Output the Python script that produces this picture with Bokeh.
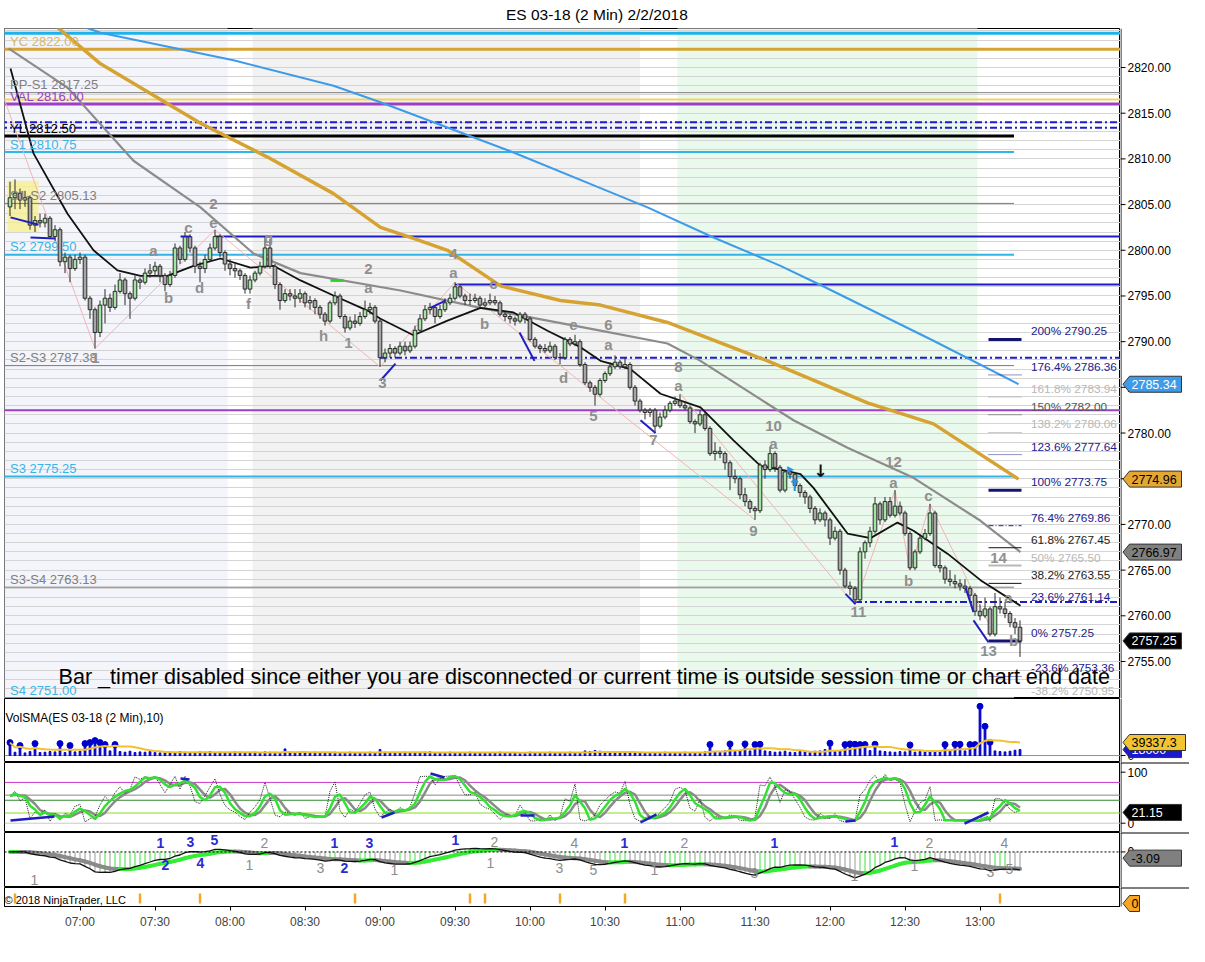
import numpy as np
from bokeh.plotting import figure
from bokeh.layouts import column, row
from bokeh.models import Range1d, FixedTicker, SingleIntervalTicker, Span
from bokeh.core.properties import value
from bokeh.embed import file_html
from bokeh.resources import INLINE

FONT = "Liberation Sans"
W = 1189
MAIN_W = 1120
SIDE_W = W - MAIN_W
LB = 4

# ------------------------------------------------------------------ data
TITLE = "ES 03-18 (2 Min)  2/2/2018"
FIRST_BAR_TIME = "06:32"
BAR_MINUTES = 2
OPEN_FIRST = 2804.75

CLOSE = [
    2805.75, 2806.25, 2805.5, 2805.75, 2802.75, 2803.25, 2803.0, 2803.5, 2801.5, 2802.25,
    2798.75, 2799.25, 2798.0, 2799.0, 2799.25, 2794.75, 2793.5, 2791.0, 2794.0, 2794.75,
    2793.75, 2795.5, 2796.75, 2795.25, 2794.75, 2796.75, 2796.5, 2797.5, 2797.75, 2798.25,
    2797.25, 2796.25, 2797.25, 2800.25, 2799.0, 2801.5, 2800.25, 2798.25, 2798.0, 2799.0,
    2800.25, 2801.5, 2799.75, 2798.5, 2798.0, 2797.75, 2797.25, 2795.75, 2796.75, 2797.5,
    2798.25, 2800.25, 2798.25, 2796.25, 2794.5, 2795.25, 2795.0, 2794.75, 2795.25, 2794.25,
    2794.5, 2793.75, 2793.0, 2792.25, 2794.25, 2795.0, 2792.75, 2791.5, 2792.25, 2792.0,
    2792.75, 2793.5, 2793.75, 2792.25, 2788.25, 2788.75, 2789.25, 2788.75, 2789.5, 2789.0,
    2789.5, 2791.25, 2792.5, 2793.5, 2793.75, 2792.75, 2793.5, 2794.25, 2794.75, 2796.0,
    2795.0, 2794.5, 2794.5, 2794.75, 2794.0, 2794.25, 2794.5, 2794.25, 2793.0, 2792.75,
    2792.5, 2792.25, 2793.0, 2792.5, 2790.25, 2789.5, 2789.25, 2789.0, 2789.5, 2788.25,
    2788.25, 2790.25, 2789.75, 2790.0, 2787.5, 2785.5, 2785.0, 2784.25, 2785.75, 2786.5,
    2787.25, 2787.75, 2787.25, 2787.5, 2785.0, 2783.5, 2782.5, 2782.25, 2782.5, 2780.75,
    2781.75, 2782.5, 2783.25, 2783.5, 2783.0, 2782.75, 2781.25, 2781.0, 2782.0, 2780.5,
    2777.75, 2778.0, 2777.75, 2776.75, 2775.25, 2775.0, 2773.25, 2772.5, 2771.75, 2771.5,
    2776.5, 2776.0, 2777.75, 2776.25, 2773.75, 2775.75, 2775.5, 2774.25, 2773.5, 2773.0,
    2771.75, 2770.5, 2771.25, 2770.5, 2768.5, 2769.25, 2765.0, 2763.25, 2763.0, 2761.75,
    2767.0, 2768.0, 2769.25, 2772.25, 2770.5, 2772.5, 2771.0, 2772.0, 2771.25, 2769.0,
    2765.25, 2767.0, 2768.5, 2769.0, 2771.25, 2765.5, 2765.25, 2764.0, 2763.75, 2763.5,
    2763.25, 2763.0, 2762.25, 2760.5, 2760.0, 2760.75, 2758.0, 2761.0, 2760.75, 2760.25,
    2759.25, 2758.75, 2757.25]

HIGH = [
    2807.5, 2807.75, 2806.75, 2806.5, 2806.0, 2803.75, 2804.0, 2804.0, 2803.75, 2802.75,
    2802.5, 2799.75, 2799.5, 2799.5, 2799.75, 2799.5, 2795.0, 2793.75, 2794.5, 2795.75,
    2795.25, 2796.25, 2797.5, 2797.0, 2795.5, 2797.25, 2797.0, 2798.0, 2798.5, 2798.75,
    2798.5, 2797.5, 2797.75, 2800.75, 2800.5, 2802.0, 2801.75, 2800.5, 2798.75, 2799.5,
    2800.75, 2802.25, 2801.75, 2800.0, 2799.0, 2798.5, 2798.0, 2797.5, 2797.25, 2797.75,
    2798.75, 2801.5, 2801.25, 2798.5, 2796.5, 2795.75, 2795.75, 2795.75, 2795.75, 2795.5,
    2795.0, 2794.75, 2794.0, 2793.25, 2794.5, 2795.5, 2795.25, 2793.0, 2792.75, 2793.0,
    2793.25, 2794.5, 2794.25, 2794.0, 2792.5, 2789.25, 2789.75, 2789.5, 2790.0, 2790.0,
    2790.0, 2791.75, 2793.0, 2794.0, 2794.25, 2794.0, 2794.0, 2794.75, 2795.25, 2796.5,
    2796.25, 2795.25, 2795.25, 2795.25, 2795.0, 2794.75, 2795.25, 2795.0, 2794.5, 2793.25,
    2793.0, 2792.75, 2793.25, 2793.25, 2792.75, 2790.5, 2789.75, 2789.75, 2790.0, 2789.75,
    2788.75, 2790.5, 2790.5, 2790.75, 2790.25, 2787.75, 2785.75, 2785.25, 2786.0, 2786.75,
    2787.75, 2788.5, 2788.0, 2788.25, 2787.75, 2785.25, 2783.75, 2782.75, 2782.75, 2782.75,
    2782.25, 2783.0, 2783.5, 2784.0, 2784.25, 2783.5, 2783.0, 2781.5, 2782.5, 2782.25,
    2780.75, 2779.0, 2778.5, 2778.0, 2777.0, 2776.0, 2775.25, 2774.0, 2772.75, 2772.0,
    2776.75, 2777.0, 2778.5, 2778.0, 2776.5, 2776.0, 2776.0, 2775.75, 2774.5, 2773.75,
    2773.25, 2772.0, 2771.75, 2771.5, 2770.75, 2769.75, 2769.5, 2765.25, 2763.75, 2763.25,
    2767.5, 2768.25, 2769.75, 2773.0, 2772.5, 2773.0, 2773.0, 2773.75, 2772.5, 2771.5,
    2769.25, 2767.25, 2768.75, 2769.5, 2772.25, 2771.5, 2767.0, 2765.5, 2765.0, 2764.5,
    2764.0, 2764.0, 2763.25, 2762.5, 2761.25, 2762.0, 2761.0, 2762.5, 2762.0, 2761.5,
    2760.5, 2759.75, 2759.5]

LOW = [
    2803.75, 2804.5, 2804.5, 2804.75, 2802.25, 2802.0, 2802.5, 2802.5, 2801.25, 2801.0,
    2798.25, 2797.5, 2796.5, 2797.75, 2798.5, 2794.5, 2792.5, 2789.25, 2790.5, 2792.0,
    2793.25, 2793.5, 2795.25, 2794.0, 2792.5, 2794.5, 2795.75, 2796.25, 2797.0, 2797.25,
    2796.5, 2795.5, 2796.0, 2797.0, 2798.5, 2798.75, 2799.75, 2797.5, 2796.5, 2797.5,
    2798.75, 2800.0, 2799.25, 2797.75, 2797.25, 2797.0, 2796.75, 2795.25, 2795.25, 2796.5,
    2797.25, 2798.0, 2798.0, 2795.75, 2793.5, 2794.25, 2794.5, 2793.75, 2794.25, 2793.75,
    2793.5, 2793.0, 2792.5, 2791.75, 2792.0, 2794.0, 2792.5, 2791.0, 2791.25, 2791.5,
    2791.75, 2792.5, 2793.0, 2792.0, 2787.25, 2787.75, 2788.25, 2788.25, 2788.5, 2788.5,
    2788.75, 2789.25, 2791.0, 2792.25, 2793.0, 2792.0, 2792.5, 2793.25, 2794.0, 2794.5,
    2794.75, 2794.0, 2794.0, 2794.25, 2793.75, 2793.75, 2794.0, 2794.0, 2792.75, 2792.25,
    2792.0, 2791.75, 2792.0, 2792.0, 2790.0, 2789.25, 2788.75, 2788.75, 2788.75, 2788.0,
    2787.5, 2788.0, 2789.5, 2789.5, 2787.25, 2785.25, 2784.5, 2783.0, 2784.0, 2785.5,
    2786.25, 2787.0, 2787.0, 2787.0, 2784.75, 2783.0, 2782.25, 2781.5, 2781.75, 2780.0,
    2780.5, 2781.5, 2782.25, 2783.0, 2782.75, 2782.5, 2781.0, 2780.0, 2780.75, 2780.25,
    2777.5, 2777.0, 2777.25, 2776.0, 2773.75, 2774.5, 2772.75, 2772.0, 2771.25, 2770.5,
    2771.25, 2775.0, 2775.75, 2775.75, 2773.5, 2773.5, 2775.0, 2774.0, 2773.0, 2772.25,
    2771.25, 2770.0, 2770.25, 2769.75, 2767.75, 2768.25, 2764.5, 2763.0, 2762.25, 2761.25,
    2761.5, 2766.25, 2767.5, 2769.0, 2770.0, 2770.25, 2770.75, 2770.75, 2771.0, 2768.75,
    2765.0, 2765.0, 2766.75, 2768.25, 2768.75, 2765.25, 2764.75, 2763.5, 2763.25, 2763.0,
    2762.75, 2762.5, 2761.75, 2760.0, 2759.5, 2759.75, 2757.75, 2757.75, 2760.25, 2759.75,
    2758.75, 2758.0, 2755.5]

VOLUME_K = [
    39, 10, 30, 8, 12, 36, 9, 10, 12, 11,
    36, 9, 30, 11, 13, 36, 39, 45, 39, 33,
    14, 33, 12, 10, 13, 9, 11, 10, 12, 9,
    8, 10, 11, 9, 12, 10, 9, 8, 11, 10,
    12, 9, 10, 8, 9, 11, 10, 9, 8, 10,
    9, 11, 10, 9, 8, 20, 9, 8, 10, 9,
    8, 10, 9, 8, 9, 10, 8, 9, 10, 9,
    8, 9, 10, 9, 18, 10, 9, 8, 9, 10,
    9, 8, 9, 10, 11, 9, 8, 9, 10, 9,
    8, 9, 10, 9, 8, 9, 8, 9, 10, 9,
    8, 9, 8, 9, 10, 9, 8, 9, 10, 9,
    8, 9, 10, 9, 8, 14, 12, 15, 13, 9,
    8, 10, 9, 8, 9, 10, 9, 8, 9, 8,
    9, 10, 9, 8, 9, 10, 9, 8, 9, 11,
    33, 12, 10, 14, 35, 12, 15, 35, 14, 33,
    34, 14, 12, 10, 11, 13, 10, 9, 12, 11,
    10, 13, 14, 18, 37, 12, 15, 33, 35, 34,
    33, 33, 15, 34, 14, 12, 11, 10, 12, 11,
    32, 10, 12, 11, 13, 12, 14, 33, 13, 34,
    34, 14, 33, 33, 148.373, 88, 40, 14, 12, 11,
    13, 16, 18]

# moving averages read at sample bars (bar index, price)
BLUE_MA_BAR = [14, 18.1, 44.7, 64.7, 74.1, 100.7, 118.1, 127.5, 140.7, 154.1, 162.1, 184.7, 201.7]
BLUE_MA = [2824.6, 2823.8, 2820.8, 2818.0, 2816.2, 2810.7, 2806.8, 2804.7, 2801.4, 2798.3, 2796.2, 2790.1, 2785.34]
GOLD_MA_BAR = [9.5, 18.1, 38.1, 51.5, 64.7, 74.1, 80.7, 87.5, 98.1, 110.1, 118.1, 131.5, 151.5, 171.5, 184.7, 201.7]
GOLD_MA = [2824.4, 2820.4, 2813.9, 2810.2, 2806.2, 2802.5, 2801.3, 2800.0, 2796.1, 2794.5, 2794.0, 2792.1, 2787.9, 2783.3, 2781.0, 2774.96]
GRAY_MA_BAR = [-0.3, 11.5, 24.7, 38.1, 48.7, 58.1, 78.1, 94.1, 107.5, 118.1, 131.5, 138.1, 151.5, 156.7, 167.5, 180.7, 194.1, 202.1]
GRAY_MA = [2822.1, 2817.8, 2809.8, 2804.7, 2799.65, 2797.5, 2795.6, 2793.7, 2792.3, 2791.2, 2789.8, 2787.9, 2783.2, 2781.4, 2778.4, 2775.1, 2770.4, 2766.97]
BLACK_MA_BAR = [0.1, 4.7, 11.5, 16.7, 21.5, 26.1, 31.5, 36.7, 42.1, 48.1, 52.7, 58.1, 64.7, 71.5, 74.1, 80.7,
                87.5, 94.1, 100.7, 107.5, 114.1, 118.1, 124.1, 130.1, 138.1, 144.7, 150.1, 154.1, 158.1,
                160.7, 167.5, 172.1, 177.5, 180.7, 187.5, 194.1, 202.1]
BLACK_MA = [2819.9, 2810.6, 2804.0, 2800.0, 2797.8, 2797.2, 2797.2, 2798.3, 2799.1, 2798.1, 2798.3, 2796.7,
            2795.05, 2793.4, 2792.5, 2790.7, 2792.3, 2793.7, 2793.2, 2791.2, 2789.4, 2787.9, 2787.0, 2784.3,
            2782.8, 2779.2, 2776.4, 2776.0, 2775.5, 2774.0, 2769.0, 2768.5, 2770.2, 2769.3, 2766.8, 2763.9, 2761.1]

# horizontal levels
LEVEL_PRICE = [2823.75, 2822.00, 2817.25, 2816.50, 2816.00, 2814.00, 2813.40, 2812.50, 2810.75, 2805.13,
               2801.50, 2799.50, 2796.25, 2788.25, 2787.38, 2782.50, 2775.25, 2763.13, 2761.50, 2751.00]
LEVEL_NAME = ["", "YC", "PP-S1", "", "VAL", "", "", "YL", "S1", "S1-S2",
              "", "S2", "", "", "S2-S3", "", "S3", "S3-S4", "", "S4"]
LEVEL_FROM = [-2, -2, -2, -2, -2, -2, -2, -2, -2, -2, 41, -2, 89, 74, -2, -2, -2, -2, 169, -2]
LEVEL_TO = [223, 223, 223, 223, 223, 223, 223, 200.8, 200.8, 200.8,
            223, 200.8, 223, 223, 200.8, 223, 200.8, 200.8, 223, 200.8]
LEVEL_COLOR = ["#1bb3ea", "#d4a436", "#808080", "#f3d35a", "#9b3fc4", "#1c1cc8", "#1c1cc8", "#000000", "#2fb5e8", "#7a7a7a",
               "#1c1cc8", "#2fb5e8", "#1c1cc8", "#1c1cc8", "#7a7a7a", "#9b3fc4", "#2fb5e8", "#7a7a7a", "#1c1cc8", "#2fb5e8"]
LEVEL_WIDTH = [3, 3, 1, 2, 3, 2, 2, 3, 2, 1, 2, 2, 2, 2, 1, 2, 2, 1, 2, 2]
LEVEL_DASH = ["solid", "solid", "solid", "solid", "solid", "7 3 2 3", "7 3 2 3", "solid", "solid", "solid",
              "solid", "solid", "solid", "7 3 2 3", "solid", "solid", "solid", "solid", "7 3 2 3", "solid"]
LEVEL_TEXT_COLOR = {"YC": "#d9b75c", "PP-S1": "#7f7f7f", "VAL": "#9b3fc4", "YL": "#000000", "S1": "#3ab4e6",
                    "S1-S2": "#7f7f7f", "S2": "#3ab4e6", "S2-S3": "#7f7f7f", "S3": "#3ab4e6",
                    "S3-S4": "#7f7f7f", "S4": "#3ab4e6"}

# session shading
SHADE_FROM = ["06:30", "08:10", "11:00"]
SHADE_TO = ["08:00", "10:45", "13:00"]
SHADE_COLOR = ["#f4f4fb", "#f2f2f2", "#e9f9eb"]

# fibonacci projection
FIB_PCT = ["200%", "176.4%", "161.8%", "150%", "138.2%", "123.6%", "100%", "76.4%", "61.8%", "50%",
           "38.2%", "23.6%", "0%", "-23.6%", "-38.2%"]
FIB_PRICE = [2790.25, 2786.36, 2783.94, 2782.00, 2780.06, 2777.64, 2773.75, 2769.86, 2767.45, 2765.50,
             2763.55, 2761.14, 2757.25, 2753.36, 2750.95]
FIB_TEXT_COLOR = ["#22228a", "#22228a", "#b8b8b8", "#555555", "#b8b8b8", "#22228a", "#22228a", "#22228a", "#222222",
                  "#b8b8b8", "#222222", "#22228a", "#22228a", "#22228a", "#b8b8b8"]
FIB_MARK_COLOR = ["#14146e", "#22228a", "#999999", "#444444", "#999999", "#22228a", "#14146e", "#22228a", "#111111",
                  "#b8b8b8", "#111111", None, "#14146e", "#22228a", None]
FIB_MARK_WIDTH = [3, 1, 1, 1, 1, 1, 3, 1, 1, 2, 1, 1, 3, 1, 1]
FIB_MARK_DASH = ["solid", "1 1", "1 1", "1 1", "1 1", "1 1", "solid", "5 2 1 2", "solid", "solid",
                 "solid", "solid", "solid", "1 1", "solid"]

# wave labels
WAVE_TEXT = ["1", "a", "b", "c", "2", "e", "d", "f", "g", "h", "1", "2", "a", "3", "4", "a", "c", "b", "e", "6",
             "a", "d", "5", "7", "8", "a", "10", "a", "9", "11", "12", "a", "b", "c", "14", "13", "a", "b"]
WAVE_BAR = [17.1, 28.7, 31.7, 35.7, 40.7, 40.7, 37.9, 47.7, 51.7, 62.7, 67.7, 71.7, 71.7, 74.5, 88.7, 88.7, 96.7,
            94.9, 112.7, 119.7, 119.7, 110.7, 116.7, 128.7, 133.7, 133.7, 152.7, 152.7, 148.7, 169.7, 176.7,
            176.7, 179.7, 183.7, 197.7, 195.7, 199.7, 200.7]
WAVE_PRICE = [2788.2, 2800.0, 2794.8, 2802.5, 2805.1, 2803.0, 2795.9, 2794.2, 2801.4, 2790.7, 2789.8, 2798.0,
              2795.9, 2785.5, 2799.6, 2797.6, 2796.4, 2792.0, 2791.8, 2791.8, 2789.7, 2786.1, 2781.9, 2779.2,
              2787.2, 2785.2, 2780.8, 2778.9, 2769.3, 2760.4, 2776.8, 2774.6, 2763.9, 2773.2, 2766.3, 2756.2,
              2762.0, 2757.3]

DIV_MAIN = [(0.1, 2803.6, 5.7, 2802.8), (4.1, 2801.4, 9.1, 2801.3), (34.1, 2801.5, 36.1, 2801.5),
            (74.1, 2785.75, 77.1, 2787.6), (84.1, 2793.7, 87.1, 2794.5), (101.9, 2791.0, 104.9, 2787.9),
            (126.1, 2781.4, 129.1, 2780.0), (167.1, 2762.4, 169.1, 2761.3), (191.1, 2763.1, 192.7, 2760.4),
            (192.7, 2759.5, 195.7, 2757.1)]
ZIGZAG_BAR = [-2, 17, 41, 74, 89, 149]
ZIGZAG_PRICE = [2817.8, 2789.25, 2802.25, 2787.25, 2796.5, 2770.5]
ZIGZAG2_BAR = [134.1, 167.1]
ZIGZAG2_PRICE = [2784.3, 2762.4]
ZIGZAG3_BAR = [169, 177, 180, 184, 197]
ZIGZAG3_PRICE = [2761.25, 2773.75, 2765.0, 2772.25, 2757.75]
HIGHLIGHT = (-0.5, 5.7, 2802.0, 2807.6)

MESSAGE = ("Bar _timer disabled since either you are disconnected or current time is outside "
           "session time or chart end date")

STOCH_LAST = 21.15
MACD_LAST = -3.09
MACD_DISPLAY_RATIO = 3.35   # reference MACD units per unit of the recomputed MACD
STOCH_LEVELS = [80, 55, 45, 20, 0]
STOCH_LEVEL_COLOR = ["#cc33cc", "#888888", "#2e8b2e", "#88dd22", "#c8c8c8"]
DIV_STOCH = [(0.1, 5.3, 8.9, 13.1), (34.1, 87.6, 35.9, 85.7), (74.3, 11.2, 76.9, 21.0), (84.1, 97.5, 86.9, 89.6),
             (102.1, 15.1, 104.9, 15.1), (126.1, 1.4, 129.3, 17.1), (167.1, 3.3, 169.1, 5.3), (190.9, -0.6, 195.7, 21.0)]

MACD_NUM_TEXT = ["1", "2", "3", "4", "5", "1", "2", "1", "3", "1", "2", "3", "1", "1", "2", "1", "4", "3", "5",
                 "1", "2", "1", "3", "1", "1", "1", "2", "1", "3", "5", "4"]
MACD_NUM_BLUE = [1, 1, 1, 1, 1, 0, 0, 0, 0, 1, 1, 1, 0, 1, 0, 0, 0, 0, 0, 1, 0, 0, 0, 1, 0, 1, 0, 0, 0, 0, 0]
MACD_NUM_BAR = [30.1, 31.1, 36.1, 38.1, 40.9, 4.9, 50.9, 47.9, 62.1, 64.9, 66.9, 71.9, 76.9, 89.1, 96.9, 96.1,
                112.9, 109.9, 116.7, 122.9, 134.9, 128.9, 148.9, 152.9, 168.9, 176.9, 183.9, 180.9, 196.1, 199.9, 198.9]
MACD_NUM_VAL = [1.34, -1.95, 1.51, -1.62, 1.79, -4.19, 1.34, -1.95, -2.4, 1.34, -2.4, 1.34, -2.68, 1.79, 1.51,
                -1.62, 1.34, -2.4, -2.68, 1.34, 1.34, -2.68, -3.12, 1.34, -3.57, 1.51, 1.34, -2.06, -2.96,
                -2.51, 1.34]

SIGNAL_BARS = [1, 26, 38, 69, 92, 95, 110, 123, 198]
TIME_LABELS = ["07:00", "07:30", "08:00", "08:30", "09:00", "09:30", "10:00", "10:30", "11:00", "11:30",
               "12:00", "12:30", "13:00"]
PRICE_TICKS = [2755, 2760, 2765, 2770, 2775, 2780, 2785, 2790, 2795, 2800, 2805, 2810, 2815, 2820]


# ------------------------------------------------------------------ helpers
def minutes(s):
    hh, mm = s.split(":")
    return int(hh) * 60 + int(mm)


def bar_of(s):
    return (minutes(s) - minutes(FIRST_BAR_TIME)) / BAR_MINUTES


def sma(a, k):
    return np.array([a[max(0, i - k + 1):i + 1].mean() for i in range(len(a))])


def ema(a, span):
    al = 2.0 / (span + 1)
    out = np.empty(len(a))
    out[0] = a[0]
    for i in range(1, len(a)):
        out[i] = out[i - 1] + al * (a[i] - out[i - 1])
    return out


c = np.array(CLOSE)
h = np.array(HIGH)
lo = np.array(LOW)
o = np.concatenate([[OPEN_FIRST], c[:-1]])
n = len(c)
idx = np.arange(n)
vol = np.array(VOLUME_K, dtype=float) * 1000.0

XR = Range1d(-1.1, 222.1)


def panel(height, y_range, xaxis=False, bottom=0):
    p = figure(width=MAIN_W, height=height, x_range=XR, y_range=y_range,
               x_axis_location="below" if xaxis else None, y_axis_location=None,
               output_backend="svg", toolbar_location=None,
               min_border_left=LB, min_border_right=0, min_border_top=0, min_border_bottom=bottom,
               background_fill_color="white", border_fill_color="white",
               outline_line_color="black")
    p.xgrid.visible = False
    p.ygrid.visible = False
    return p


def side(y_range, height, top_rule=False, ticks=(), fmt="{:.0f}", axis_span=None):
    s = figure(width=SIDE_W, height=height, x_range=Range1d(0, SIDE_W), y_range=y_range,
               x_axis_location=None, y_axis_location=None, output_backend="svg", toolbar_location=None,
               min_border=0, outline_line_color=None,
               background_fill_color="white", border_fill_color="white")
    s.xgrid.visible = False
    s.ygrid.visible = False
    y0, y1 = axis_span if axis_span else (y_range.start, y_range.end)
    s.segment(x0=[0.5], y0=[y0], x1=[0.5], y1=[y1], line_color="black", line_width=1)
    if top_rule:
        s.segment(x0=[0], y0=[y1], x1=[SIDE_W], y1=[y1], line_color="black", line_width=2)
    if ticks:
        s.segment(x0=[0] * len(ticks), y0=list(ticks), x1=[5] * len(ticks), y1=list(ticks),
                  line_color="black", line_width=1)
        s.text(x=[7] * len(ticks), y=list(ticks), text=[fmt.format(t) for t in ticks],
               text_font=value(FONT), text_font_size="12px", text_color="black",
               text_baseline="middle", text_align="left")
    return s


def tag(s, v, text, bg, fg, frame_h, box_w=52):
    yr = s.y_range
    hh = 8.0 * (yr.end - yr.start) / frame_h
    s.patch(x=[2.5, 9, 9 + box_w, 9 + box_w, 9], y=[v, v + hh, v + hh, v - hh, v - hh],
            fill_color=bg, line_color="#333333", line_width=1)
    s.text(x=[11], y=[v], text=[text], text_font=value(FONT), text_font_size="12.5px",
           text_color=fg, text_baseline="middle", text_align="left")


# ------------------------------------------------------------------ title
pt = figure(width=W, height=28, x_range=Range1d(0, W), y_range=Range1d(0, 28),
            x_axis_location=None, y_axis_location=None, output_backend="svg", toolbar_location=None,
            min_border=0, outline_line_color=None)
pt.xgrid.visible = False
pt.ygrid.visible = False
pt.text(x=[W / 2], y=[14], text=[TITLE], text_font=value(FONT), text_font_size="15.5px",
        text_align="center", text_baseline="middle", text_color="black", x_offset=4)

# ------------------------------------------------------------------ main price panel
MAIN_H = 670
pm = panel(MAIN_H, Range1d(2750.95, 2824.27))
pm.ygrid.visible = True
pm.ygrid.ticker = SingleIntervalTicker(interval=1, num_minor_ticks=0)
pm.ygrid.grid_line_color = "#d4d4d4"

for f, t, col in zip(SHADE_FROM, SHADE_TO, SHADE_COLOR):
    pm.quad(left=[bar_of(f) - 0.5], right=[bar_of(t) - 0.5], bottom=[2700], top=[2900],
            fill_color=col, line_color=None, level="image")

pm.quad(left=[HIGHLIGHT[0]], right=[HIGHLIGHT[1]], bottom=[HIGHLIGHT[2]], top=[HIGHLIGHT[3]],
        fill_color="#f7f08a", fill_alpha=0.75, line_color=None)

for pr, x0, x1, col, wd, ds in zip(LEVEL_PRICE, LEVEL_FROM, LEVEL_TO, LEVEL_COLOR, LEVEL_WIDTH, LEVEL_DASH):
    pm.line(x=[x0, x1], y=[pr, pr], line_color=col, line_width=wd, line_dash=ds)

pm.line(ZIGZAG_BAR, ZIGZAG_PRICE, line_color="#f2b4b4", line_width=1)
pm.line(ZIGZAG2_BAR, ZIGZAG2_PRICE, line_color="#f2b4b4", line_width=1)
pm.line(ZIGZAG3_BAR, ZIGZAG3_PRICE, line_color="#f2b4b4", line_width=1)

pm.line(BLUE_MA_BAR, BLUE_MA, line_color="#3d9be9", line_width=2)
pm.line(GOLD_MA_BAR, GOLD_MA, line_color="#d6a332", line_width=3.5)
pm.line(GRAY_MA_BAR, GRAY_MA, line_color="#8c8c8c", line_width=2.2)
pm.line(BLACK_MA_BAR, BLACK_MA, line_color="#111111", line_width=1.8)

fib_x0, fib_x1 = 195.7, 202.3
for pr, col, wd, ds in zip(FIB_PRICE, FIB_MARK_COLOR, FIB_MARK_WIDTH, FIB_MARK_DASH):
    if col is not None:
        pm.line(x=[fib_x0, fib_x1], y=[pr, pr], line_color=col, line_width=wd, line_dash=ds)
pm.text(x=[204.2] * len(FIB_PRICE), y=FIB_PRICE,
        text=[f"{pc} {pr:.2f}" for pc, pr in zip(FIB_PCT, FIB_PRICE)],
        text_color=FIB_TEXT_COLOR, text_font=value(FONT), text_font_size="11.8px",
        text_baseline="bottom", y_offset=-1)

up = c >= o
pm.segment(x0=idx, y0=h, x1=idx, y1=lo, line_color="#2b2b2b", line_width=1)
pm.vbar(x=idx, width=0.72, top=np.maximum(o, c), bottom=np.minimum(o, c),
        fill_color=["#a3e4a3" if u else "#a6a6a6" for u in up], line_color="#2b2b2b", line_width=1)

for b0, p0, b1, p1 in DIV_MAIN:
    pm.line([b0, b1], [p0, p1], line_color="#1f1fc0", line_width=2)
pm.line([64.1, 66.7], [2796.7, 2796.7], line_color="#33cc33", line_width=3)

named = [(pr, nm) for pr, nm in zip(LEVEL_PRICE, LEVEL_NAME) if nm]
pm.text(x=[0.0] * len(named), y=[pr for pr, _ in named], text=[f"{nm} {pr:.2f}" for pr, nm in named],
        text_color=[LEVEL_TEXT_COLOR[nm] for _, nm in named], text_font=value(FONT),
        text_font_size="13px", text_baseline="alphabetic", y_offset=-8)

pm.text(x=WAVE_BAR, y=WAVE_PRICE, text=WAVE_TEXT, text_color="#8f8f8f", text_font=value(FONT),
        text_font_size="15px", text_font_style="bold", text_align="center", text_baseline="middle")

pm.text(x=[156.9], y=[2774.3], text=["\u2191"], text_color="#2f8fe0", text_font=value("DejaVu Sans"),
        text_font_size="17px", text_font_style="bold", text_align="center", text_baseline="middle")
pm.text(x=[162.1], y=[2775.8], text=["\u2193"], text_color="#111111", text_font=value("DejaVu Sans"),
        text_font_size="17px", text_font_style="bold", text_align="center", text_baseline="middle")
pm.text(x=[156.1], y=[2776.1], text=["\u25b6"], text_color="#2f8fe0", text_font=value("DejaVu Sans"),
        text_font_size="9px", text_align="center", text_baseline="middle")

pm.text(x=[9.7], y=[2753.36], text=[MESSAGE], text_color="black", text_font=value(FONT),
        text_font_size="21.6px", text_baseline="middle", text_align="left")

sm = side(pm.y_range, MAIN_H, ticks=PRICE_TICKS, fmt="{:.2f}")
tag(sm, BLUE_MA[-1], f"{BLUE_MA[-1]:.2f}", "#3d9be9", "white", MAIN_H)
tag(sm, GOLD_MA[-1], f"{GOLD_MA[-1]:.2f}", "#e3a834", "black", MAIN_H)
tag(sm, GRAY_MA[-1], f"{GRAY_MA[-1]:.2f}", "#808080", "black", MAIN_H)
tag(sm, CLOSE[-1], f"{CLOSE[-1]:.2f}", "#000000", "white", MAIN_H)

# ------------------------------------------------------------------ volume panel
VOL_H = 64
pv = panel(VOL_H, Range1d(-21000, 172000))
vsma = sma(vol, 10)
pv.add_layout(Span(location=0, dimension="width", line_color="#909090", line_width=1, level="underlay"))
pv.vbar(x=idx, width=0.35, top=vol, bottom=0, fill_color="#0000cc", line_color="#0000cc")
big = vol >= 27000
pv.scatter(x=idx[big], y=vol[big], size=6, fill_color="#0000cc", line_color="#0000cc")
pv.line(idx, vsma, line_color="#f2c12e", line_width=2)
pv.text(x=[XR.start], y=[172000], text=["VolSMA(ES 03-18 (2 Min),10)"], text_font=value(FONT),
        text_font_size="12px", text_color="black", text_baseline="middle", x_offset=1, y_offset=19)
sv = side(pv.y_range, VOL_H, ticks=[0])
tag(sv, vol[-1], f"{vol[-1]:.0f}", "#1a1acc", "white", VOL_H)
tag(sv, vsma[-1], f"{vsma[-1]:.1f}", "#f4c430", "black", VOL_H, box_w=56)

# ------------------------------------------------------------------ stochastics panel
K_N = 9
ll = np.array([lo[max(0, i - K_N + 1):i + 1].min() for i in range(n)])
hh = np.array([h[max(0, i - K_N + 1):i + 1].max() for i in range(n)])
rawk = 100.0 * (c - ll) / np.where(hh - ll == 0, 1, hh - ll)
k_line = sma(rawk, 3)
d_line = sma(k_line, 3)

ST_H = 70
ps = panel(ST_H, Range1d(-18.2, 119))
for lv, col in zip(STOCH_LEVELS, STOCH_LEVEL_COLOR):
    ps.add_layout(Span(location=lv, dimension="width", line_color=col, line_width=1, level="underlay"))
ps.line(idx, d_line, line_color="#8a8a8a", line_width=2.5)
ps.line(idx, rawk, line_color="#222222", line_width=1, line_dash="1 1")
ps.line(idx, k_line, line_color="#33e033", line_width=2.5)
for b0, v0, b1, v1 in DIV_STOCH:
    ps.line([b0, b1], [v0, v1], line_color="#1f1fc0", line_width=2.5)
ss = side(ps.y_range, ST_H, top_rule=True, ticks=[0, 100])
tag(ss, STOCH_LAST, f"{STOCH_LAST:.2f}", "#000000", "white", ST_H)

# ------------------------------------------------------------------ MACD panel
macd = ema(c, 12) - ema(c, 26)
sig = ema(macd, 9)
MD_H = 55
pd_ = panel(MD_H, Range1d(-5.3, 2.9))
rising = np.concatenate([[False], macd[1:] >= macd[:-1]])
pd_.segment(x0=idx, y0=np.zeros(n), x1=idx, y1=macd,
            line_color=["#44dd44" if r else "#9a9a9a" for r in rising], line_width=1)
pd_.add_layout(Span(location=0, dimension="width", line_color="black", line_width=1, line_dash="2 2"))
sig_up = sig[1:] >= sig[:-1]
pd_.segment(x0=idx[:-1], y0=sig[:-1], x1=idx[1:], y1=sig[1:],
            line_color=["#33ee33" if u else "#8a8a8a" for u in sig_up], line_width=4, line_cap="round")
pd_.line(idx, macd, line_color="#111111", line_width=1.3)
for bl in (0, 1):
    sel = [i for i, b in enumerate(MACD_NUM_BLUE) if b == bl]
    pd_.text(x=[MACD_NUM_BAR[i] for i in sel], y=[MACD_NUM_VAL[i] for i in sel],
             text=[MACD_NUM_TEXT[i] for i in sel], text_color="#2a2ad0" if bl else "#8c8c8c",
             text_font=value(FONT), text_font_size="14px", text_font_style="bold" if bl else "normal",
             text_align="center", text_baseline="middle")
sd = side(pd_.y_range, MD_H, top_rule=True, ticks=[0])
tag(sd, MACD_LAST / MACD_DISPLAY_RATIO, f"{MACD_LAST:.2f}", "#808080", "black", MD_H)

# ------------------------------------------------------------------ signal panel + time axis
SG_H, SG_B = 59, 40
SG_RANGE = (-0.3, 1.6)
px = panel(SG_H, Range1d(*SG_RANGE), xaxis=True, bottom=SG_B)
px.vbar(x=SIGNAL_BARS, width=0.5, top=1, bottom=0, fill_color="#f5a623", line_color=None)
px.text(x=[XR.start], y=[SG_RANGE[1]], text=["\u00a9 2018 NinjaTrader, LLC"], text_font=value(FONT),
        text_font_size="11px", text_color="black", text_baseline="middle", x_offset=0, y_offset=12)
ticks = [int(round(bar_of(t))) for t in TIME_LABELS]
xa = px.xaxis[0]
xa.ticker = FixedTicker(ticks=ticks)
xa.major_label_overrides = {tk: lb for tk, lb in zip(ticks, TIME_LABELS)}
xa.major_tick_out = 4
xa.major_tick_in = 0
xa.minor_tick_out = 0
xa.minor_tick_in = 0
xa.axis_line_color = "black"
xa.major_label_text_font = FONT
xa.major_label_text_font_size = "12px"
xa.major_label_standoff = 4
unit = (SG_RANGE[1] - SG_RANGE[0]) / (SG_H - SG_B)
sx = side(Range1d(SG_RANGE[0] - SG_B * unit, SG_RANGE[1]), SG_H, top_rule=True, axis_span=SG_RANGE)
tag(sx, 0, "0", "#f5a623", "black", SG_H, box_w=10)

layout = column(pt, row(pm, sm), row(pv, sv), row(ps, ss), row(pd_, sd), row(px, column(sx)))
open("out.html", "w").write(file_html(layout, INLINE))
